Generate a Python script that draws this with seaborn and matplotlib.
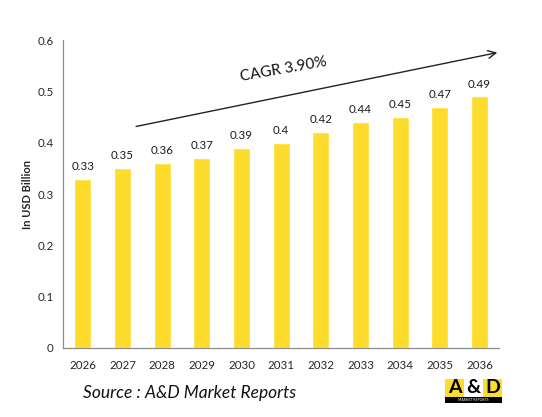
import numpy as np
import pandas as pd
import seaborn as sns
import matplotlib.pyplot as plt
from matplotlib.patches import Rectangle

years = ['2026', '2027', '2028', '2029', '2030', '2031', '2032', '2033', '2034', '2035', '2036']
values = [0.33, 0.35, 0.36, 0.37, 0.39, 0.4, 0.42, 0.44, 0.45, 0.47, 0.49]
value_labels = ['0.33', '0.35', '0.36', '0.37', '0.39', '0.4', '0.42', '0.44', '0.45', '0.47', '0.49']
yticks = [0, 0.1, 0.2, 0.3, 0.4, 0.5, 0.6]

df = pd.DataFrame({'year': years, 'value': values})

sns.set_style('white')
plt.rcParams['font.family'] = ['Lato', 'DejaVu Sans']

fig = plt.figure(figsize=(5.42, 4.17), dpi=100)
ax = fig.add_axes([0.1165, 0.1655, 0.8045, 0.7385])

sns.barplot(data=df, x='year', y='value', color='#FDDC2E', saturation=1, width=0.43, ax=ax)

# value labels
for i, lab in enumerate(value_labels):
    ax.annotate(lab, (i, values[i]), xytext=(0, 5), textcoords='offset points',
                ha='center', va='bottom', fontsize=8.3, color='#1a1a1a')

ax.set_ylim(0, 0.6)
ax.set_xlim(-0.5, len(years) - 0.5)
ax.set_yticks(yticks)
ax.set_yticklabels(['0', '0.1', '0.2', '0.3', '0.4', '0.5', '0.6'])
ax.set_xlabel('')
ax.set_ylabel('In USD Billion', fontsize=8, fontweight='bold', labelpad=3)

for s in ['top', 'right']:
    ax.spines[s].set_visible(False)
for s in ['left', 'bottom']:
    ax.spines[s].set_color('#8c8c8c')
    ax.spines[s].set_linewidth(0.9)

ax.tick_params(axis='y', length=4, color='#8c8c8c', labelsize=8.3, pad=3)
ax.tick_params(axis='x', which='major', length=0, labelsize=8.3, pad=9)
ax.set_xticks(np.arange(-0.5, len(years), 1), minor=True)
ax.tick_params(axis='x', which='minor', length=4, color='#8c8c8c')

# CAGR arrow
ax.annotate('', xy=(1.002, 0.961), xytext=(0.161, 0.7175), xycoords='axes fraction',
            textcoords='axes fraction',
            arrowprops=dict(arrowstyle='->', color='#222222', lw=1.0, mutation_scale=14))
ax.text(0.505, 0.905, 'CAGR 3.90%', transform=ax.transAxes, rotation=10,
        ha='center', va='center', fontsize=11, color='#111111')

# source
fig.text(0.153, 0.057, 'Source : A&D Market Reports', fontsize=12.5, style='italic',
         color='#111111', va='center')

# logo
lx, ly, lw, lh, bh = 0.821, 0.034, 0.105, 0.058, 0.014
for k, fc in enumerate(['#FDDC2E', 'white', '#FDDC2E']):
    fig.patches.append(Rectangle((lx + k * lw / 3, ly + bh), lw / 3, lh - bh,
                                 transform=fig.transFigure, facecolor=fc, edgecolor='none'))
fig.patches.append(Rectangle((lx, ly), lw, bh, transform=fig.transFigure,
                             facecolor='black', edgecolor='none'))
for k, ch in enumerate(['A', '&', 'D']):
    fig.text(lx + lw / 6 + k * lw / 3, ly + bh + (lh - bh) / 2, ch, fontsize=14,
             fontweight='bold', ha='center', va='center', color='black')
fig.text(lx + lw / 2, ly + bh / 2, 'MARKET REPORTS', fontsize=2.5, ha='center',
         va='center', color='white')

fig.savefig('out.png', dpi=100)
